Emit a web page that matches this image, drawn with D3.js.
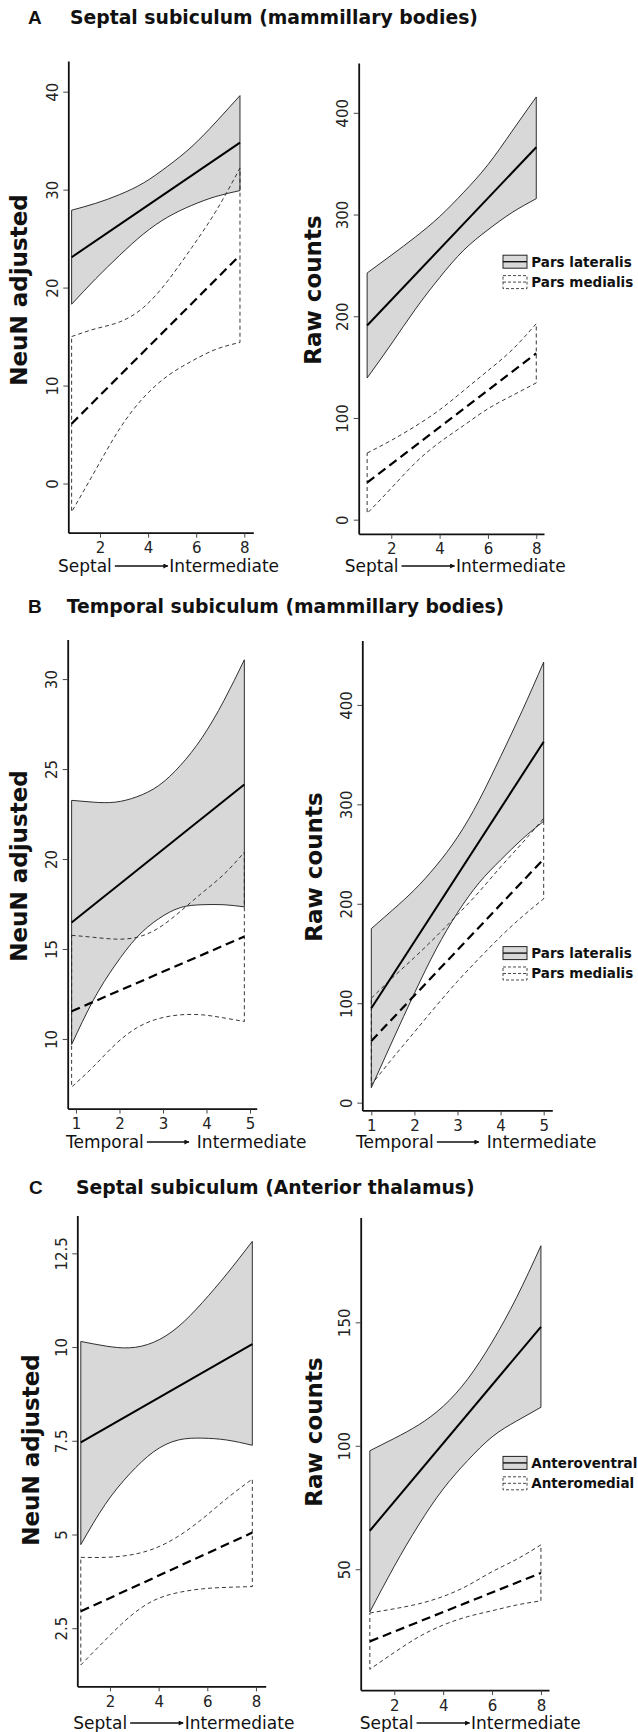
<!DOCTYPE html>
<html>
<head>
<meta charset="utf-8">
<script src="https://cdn.jsdelivr.net/npm/d3@7"></script>
<style>
  body { margin: 0; background: #fff; }
  text { font-family: "DejaVu Sans", Verdana, sans-serif; }
</style>
</head>
<body>
<svg id="fig" width="638" height="1732"></svg>
<script>
// ===== data =====

// A: septal subiculum -> mammillary bodies
var aNeuX      = [0.82, 1.82, 2.82, 3.82, 4.82, 5.82, 6.82, 7.82];
var aNeuLatFit = [23.1, 34.8];
var aNeuLatUp  = [27.9, 28.6, 29.5, 30.7, 32.4, 34.4, 36.9, 39.6];
var aNeuLatLo  = [18.3, 20.9, 23.3, 25.5, 27.2, 28.4, 29.3, 29.9];
var aNeuMedFit = [6.1, 23.3];
var aNeuMedUp  = [15.0, 15.8, 16.5, 18.0, 20.7, 24.1, 27.8, 32.2];
var aNeuMedLo  = [-2.9, 1.4, 5.6, 8.8, 11.0, 12.5, 13.7, 14.4];

var aRawX      = [1, 2, 3, 4, 5, 6, 7, 8];
var aRawLatFit = [190.9, 366.2];
var aRawLatUp  = [242.5, 260, 278, 298, 322, 349, 382, 415.6];
var aRawLatLo  = [139.3, 172.7, 207, 238, 265, 285, 302, 315.6];
var aRawMedFit = [36.4, 163.6];
var aRawMedUp  = [65.5, 78, 92, 108, 127, 146.5, 167, 192.7];
var aRawMedLo  = [6.2, 31, 56, 76, 92.7, 109, 122, 134.5];

// B: temporal subiculum -> mammillary bodies
var bNeuX      = [0.9, 1.4, 1.9, 2.4, 2.9, 3.4, 3.9, 4.4, 4.87];
var bNeuLatFit = [16.47, 24.14];
var bNeuLatUp  = [23.26, 23.16, 23.16, 23.46, 24.08, 25.2, 26.75, 28.8, 31.07];
var bNeuLatLo  = [9.69, 12.16, 14.1, 15.65, 16.68, 17.3, 17.46, 17.46, 17.34];
var bNeuMedFit = [11.54, 15.69];
var bNeuMedUp  = [15.76, 15.65, 15.55, 15.65, 16.17, 17.09, 18.12, 19.15, 20.38];
var bNeuMedLo  = [7.33, 8.46, 9.69, 10.62, 11.13, 11.34, 11.34, 11.17, 10.97];

var bRawX      = [1, 1.5, 2, 2.5, 3, 3.5, 4, 4.5, 5];
var bRawLatFit = [95, 363];
var bRawLatUp  = [175, 194, 214, 238, 267, 304, 348, 394, 443];
var bRawLatLo  = [15, 63, 110, 154, 191, 221, 244, 265, 283];
var bRawMedFit = [62, 245];
var bRawMedUp  = [105, 126, 146, 167, 189, 212, 237, 261, 286];
var bRawMedLo  = [18, 45, 71, 97, 122, 145, 167, 187, 205];

// C: septal subiculum -> anterior thalamus
var cNeuX      = [0.8, 1.8, 2.8, 3.8, 4.8, 5.8, 6.8, 7.85];
var cNeuLatFit = [7.46, 10.08];
var cNeuLatUp  = [10.15, 10.03, 9.98, 10.13, 10.54, 11.19, 11.95, 12.82];
var cNeuLatLo  = [4.73, 5.80, 6.61, 7.21, 7.52, 7.57, 7.52, 7.38];
var cNeuMedFit = [2.95, 5.05];
var cNeuMedUp  = [4.39, 4.39, 4.45, 4.62, 4.95, 5.42, 5.96, 6.48];
var cNeuMedLo  = [1.52, 2.18, 2.80, 3.24, 3.45, 3.55, 3.59, 3.61];

var cRawX      = [1, 2, 3, 4, 5, 6, 7, 8];
var cRawLatFit = [65.6, 148.2];
var cRawLatUp  = [98, 103, 108.5, 116, 127, 142, 160, 181];
var cRawLatLo  = [32.7, 51.2, 68, 82.5, 94, 103.6, 110, 115.6];
var cRawMedFit = [20.8, 48.5];
var cRawMedUp  = [32.3, 34, 36, 39, 43.4, 49, 54, 59.9];
var cRawMedLo  = [9.5, 16.3, 22.6, 27.4, 30.8, 33.2, 35.5, 37.2];

// ticks and labels
var ticks8     = [2, 4, 6, 8];
var ticks5     = [1, 2, 3, 4, 5];
var aNeuYTicks = [0, 10, 20, 30, 40];
var rawYTicks  = [0, 100, 200, 300, 400];
var bNeuYTicks = [10, 15, 20, 25, 30];
var cNeuYTicks = [2.5, 5, 7.5, 10, 12.5];
var cRawYTicks = [50, 100, 150];

var panelLetters = ['A', 'B', 'C'];
var panelTitles  = ['Septal subiculum (mammillary bodies)',
                    'Temporal subiculum (mammillary bodies)',
                    'Septal subiculum (Anterior thalamus)'];
var legendMB = ['Pars lateralis', 'Pars medialis'];
var legendAT = ['Anteroventral', 'Anteromedial'];
var yLabNeu = 'NeuN adjusted';
var yLabRaw = 'Raw counts';
var axisFrom = ['Septal', 'Temporal', 'Septal'];
var axisTo = 'Intermediate';

// ===== layout =====
var svg = d3.select('#fig');
svg.append('rect').attr('width', 638).attr('height', 1732).attr('fill', '#fff');

var headers = [
  {letterX: 28, textX: 70,   base: 23.5},
  {letterX: 28, textX: 66.7, base: 613},
  {letterX: 29, textX: 76,   base: 1194}
];

var panels = [
  {row: 0, left: 68.3, right: 253.3, top: 61, bottom: 532.7, xDom: [0.682, 8.374], yDom: [-5.02, 43.13],
   xs: aNeuX, latFit: aNeuLatFit, latUp: aNeuLatUp, latLo: aNeuLatLo, medFit: aNeuMedFit, medUp: aNeuMedUp, medLo: aNeuMedLo,
   xTicks: ticks8, yTicks: aNeuYTicks, yLab: yLabNeu, yLabX: 27, yLabY: 290, xTitleX: 58, xTitleY: 566},
  {row: 0, left: 358.7, right: 544, top: 62.9, bottom: 533.8, xDom: [0.651, 8.32], yDom: [-13.9, 449.1],
   xs: aRawX, latFit: aRawLatFit, latUp: aRawLatUp, latLo: aRawLatLo, medFit: aRawMedFit, medUp: aRawMedUp, medLo: aRawMedLo,
   xTicks: ticks8, yTicks: rawYTicks, yLab: yLabRaw, yLabX: 321, yLabY: 290, xTitleX: 344.7, xTitleY: 566,
   legend: legendMB, legX: 503, legY: 255.2},
  {row: 1, left: 67.7, right: 256.7, top: 639.5, bottom: 1108.6, xDom: [0.81, 5.154], yDom: [6.13, 32.2],
   xs: bNeuX, latFit: bNeuLatFit, latUp: bNeuLatUp, latLo: bNeuLatLo, medFit: bNeuMedFit, medUp: bNeuMedUp, medLo: bNeuMedLo,
   xTicks: ticks5, yTicks: bNeuYTicks, yLab: yLabNeu, yLabX: 27, yLabY: 866, xTitleX: 66, xTitleY: 1142},
  {row: 1, left: 362.3, right: 552.3, top: 640.6, bottom: 1110.4, xDom: [0.791, 5.2], yDom: [-7.8, 464.7],
   xs: bRawX, latFit: bRawLatFit, latUp: bRawLatUp, latLo: bRawLatLo, medFit: bRawMedFit, medUp: bRawMedUp, medLo: bRawMedLo,
   xTicks: ticks5, yTicks: rawYTicks, yLab: yLabRaw, yLabX: 322, yLabY: 867, xTitleX: 356, xTitleY: 1142,
   legend: legendMB, legX: 503, legY: 946.6},
  {row: 2, left: 77.3, right: 265.7, top: 1215.5, bottom: 1686.3, xDom: [0.656, 8.40], yDom: [0.95, 13.51],
   xs: cNeuX, latFit: cNeuLatFit, latUp: cNeuLatUp, latLo: cNeuLatLo, medFit: cNeuMedFit, medUp: cNeuMedUp, medLo: cNeuMedLo,
   xTicks: ticks8, yTicks: cNeuYTicks, yLab: yLabNeu, yLabX: 38.5, yLabY: 1450, xTitleX: 73.3, xTitleY: 1723},
  {row: 2, left: 360.7, right: 549, top: 1217.4, bottom: 1690.1, xDom: [0.626, 8.33], yDom: [1.06, 192.5],
   xs: cRawX, latFit: cRawLatFit, latUp: cRawLatUp, latLo: cRawLatLo, medFit: cRawMedFit, medUp: cRawMedUp, medLo: cRawMedLo,
   xTicks: ticks8, yTicks: cRawYTicks, yLab: yLabRaw, yLabX: 322, yLabY: 1432, xTitleX: 359.7, xTitleY: 1723,
   legend: legendAT, legX: 503, legY: 1456.4}
];

// arrow marker for the axis titles
svg.append('defs').append('marker')
    .attr('id', 'arrowHead')
    .attr('viewBox', '0 0 10 10')
    .attr('refX', 9).attr('refY', 5)
    .attr('markerWidth', 7).attr('markerHeight', 5)
    .attr('markerUnits', 'userSpaceOnUse')
    .attr('orient', 'auto')
  .append('path')
    .attr('d', 'M0,0 L10,5 L0,10 z')
    .attr('fill', '#111');

// panel headers
headers.forEach(function(h, i){
    svg.append('text')
        .attr('x', h.letterX).attr('y', h.base)
        .style('font-family', '"Liberation Sans", Arial, sans-serif')
        .style('font-weight', 'bold').style('font-size', '19px')
        .attr('fill', '#111')
        .text(panelLetters[i]);
    svg.append('text')
        .attr('x', h.textX).attr('y', h.base)
        .style('font-weight', 'bold').style('font-size', '18.8px')
        .attr('fill', '#111')
        .text(panelTitles[i]);
});

function drawPanel(p){
    var x = d3.scaleLinear().domain(p.xDom).range([p.left, p.right]);
    var y = d3.scaleLinear().domain(p.yDom).range([p.bottom, p.top]);
    var g = svg.append('g');

    var band = d3.area()
        .x(function(d){ return x(d[0]); })
        .y0(function(d){ return y(d[1]); })
        .y1(function(d){ return y(d[2]); })
        .curve(d3.curveNatural);

    var fitLine = d3.line()
        .x(function(d){ return x(d[0]); })
        .y(function(d){ return y(d[1]); });

    var x0 = p.xs[0], x1 = p.xs[p.xs.length - 1];

    // lateral (solid, grey filled) band
    g.append('path')
        .datum(d3.zip(p.xs, p.latLo, p.latUp))
        .attr('d', band)
        .attr('fill', '#d8d8d8')
        .attr('stroke', '#1a1a1a')
        .attr('stroke-width', 0.9);

    // medial (dashed, open) band
    g.append('path')
        .datum(d3.zip(p.xs, p.medLo, p.medUp))
        .attr('d', band)
        .attr('fill', 'none')
        .attr('stroke', '#222')
        .attr('stroke-width', 0.9)
        .attr('stroke-dasharray', '4,3');

    g.append('path')
        .datum([[x0, p.latFit[0]], [x1, p.latFit[1]]])
        .attr('d', fitLine)
        .attr('fill', 'none')
        .attr('stroke', '#000')
        .attr('stroke-width', 2);

    g.append('path')
        .datum([[x0, p.medFit[0]], [x1, p.medFit[1]]])
        .attr('d', fitLine)
        .attr('fill', 'none')
        .attr('stroke', '#000')
        .attr('stroke-width', 2.2)
        .attr('stroke-dasharray', '9,5');

    // axes
    var yAxis = g.append('g')
        .attr('transform', 'translate(' + p.left + ',0)')
        .call(d3.axisLeft(y).tickValues(p.yTicks).tickSize(5).tickSizeOuter(0).tickFormat(d3.format('')));
    yAxis.selectAll('text')
        .attr('x', 0).attr('y', -15.5).attr('dy', null)
        .attr('transform', 'rotate(-90)')
        .attr('text-anchor', 'middle')
        .attr('dominant-baseline', 'central');

    var xAxis = g.append('g')
        .attr('transform', 'translate(0,' + p.bottom + ')')
        .call(d3.axisBottom(x).tickValues(p.xTicks).tickSize(5).tickSizeOuter(0).tickFormat(d3.format('d')));
    xAxis.selectAll('text')
        .attr('y', 15.5).attr('dy', null)
        .attr('dominant-baseline', 'central');

    [yAxis, xAxis].forEach(function(a){
        a.selectAll('text')
            .style('font-family', '"DejaVu Sans", Verdana, sans-serif')
            .style('font-size', '15px')
            .attr('fill', '#222');
        a.select('.domain').attr('stroke', '#111').attr('stroke-width', 1.8);
        a.selectAll('.tick line').attr('stroke', '#333').attr('stroke-width', 0.9);
    });

    // y axis title
    g.append('text')
        .attr('transform', 'translate(' + p.yLabX + ',' + p.yLabY + ') rotate(-90)')
        .attr('text-anchor', 'middle')
        .style('font-weight', 'bold').style('font-size', '23px')
        .attr('fill', '#111')
        .text(p.yLab);

    // x axis title with arrow
    var from = g.append('text')
        .attr('x', p.xTitleX).attr('y', p.xTitleY)
        .attr('dominant-baseline', 'central')
        .style('font-size', '17px').attr('fill', '#111')
        .text(axisFrom[p.row]);
    var w = from.node().getComputedTextLength();
    var isTemporal = axisFrom[p.row] === 'Temporal';
    var ax0 = p.xTitleX + w + 3;
    var ax1 = ax0 + (isTemporal ? 42 : 53);
    g.append('line')
        .attr('x1', ax0).attr('x2', ax1)
        .attr('y1', p.xTitleY).attr('y2', p.xTitleY)
        .attr('stroke', '#111').attr('stroke-width', 1.3)
        .attr('marker-end', 'url(#arrowHead)');
    g.append('text')
        .attr('x', ax1 + (isTemporal ? 8 : 1.5)).attr('y', p.xTitleY)
        .attr('dominant-baseline', 'central')
        .style('font-size', '17px').attr('fill', '#111')
        .text(axisTo);

    // legend
    if (p.legend){
        var lg = g.append('g').attr('transform', 'translate(' + p.legX + ',' + p.legY + ')');
        var bw = 24, bh = 13, gap = 20.4;
        lg.append('rect').attr('x', 0).attr('y', 0).attr('width', bw).attr('height', bh)
            .attr('fill', '#d8d8d8').attr('stroke', '#222').attr('stroke-width', 1);
        lg.append('line').attr('x1', 0).attr('x2', bw).attr('y1', bh / 2).attr('y2', bh / 2)
            .attr('stroke', '#111').attr('stroke-width', 1.4);
        lg.append('rect').attr('x', 0).attr('y', gap).attr('width', bw).attr('height', bh)
            .attr('fill', '#fff').attr('stroke', '#333').attr('stroke-width', 0.9)
            .attr('stroke-dasharray', '3,2');
        lg.append('line').attr('x1', 0).attr('x2', bw).attr('y1', gap + bh / 2).attr('y2', gap + bh / 2)
            .attr('stroke', '#333').attr('stroke-width', 0.9).attr('stroke-dasharray', '3,2');
        p.legend.forEach(function(t, i){
            lg.append('text')
                .attr('x', bw + 4.3).attr('y', i * gap + bh / 2)
                .attr('dominant-baseline', 'central')
                .style('font-weight', 'bold').style('font-size', '13.5px')
                .attr('fill', '#111')
                .text(t);
        });
    }
}

panels.forEach(drawPanel);
</script>
</body>
</html>
